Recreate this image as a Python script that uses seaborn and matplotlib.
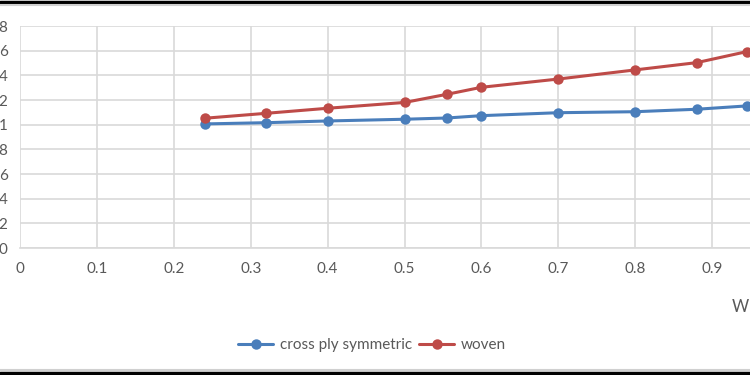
import matplotlib
matplotlib.use("Agg")
import matplotlib.pyplot as plt
from matplotlib.lines import Line2D
import numpy as np
import pandas as pd
import seaborn as sns

# values
x_vals = [0.24, 0.32, 0.40, 0.50, 0.555, 0.60, 0.70, 0.80, 0.88, 0.945]
cross_ply = [1.006, 1.016, 1.03, 1.044, 1.054, 1.073, 1.097, 1.105, 1.125, 1.152]
woven = [1.052, 1.092, 1.133, 1.18, 1.246, 1.303, 1.37, 1.444, 1.503, 1.592]
series_names = ["cross ply symmetric", "woven"]
colors = ["#4A7EBB", "#BE4B48"]
x_ticks = [0, 0.1, 0.2, 0.3, 0.4, 0.5, 0.6, 0.7, 0.8, 0.9]
x_labels = ["0", "0.1", "0.2", "0.3", "0.4", "0.5", "0.6", "0.7", "0.8", "0.9"]
y_ticks = [0, 0.2, 0.4, 0.6, 0.8, 1.0, 1.2, 1.4, 1.6, 1.8]
# left side of the original is cut off, only the last char is visible
y_labels = ["0", "2", "4", "6", "8", "1", "2", "4", "6", "8"]

df = pd.DataFrame({
    "x": x_vals * 2,
    "y": cross_ply + woven,
    "series": [series_names[0]] * len(x_vals) + [series_names[1]] * len(x_vals),
})

sns.set_style("white")
plt.rcParams["font.family"] = ["Lato", "DejaVu Sans"]

fig = plt.figure(figsize=(7.5, 3.75), dpi=100)
ax = fig.add_axes([20 / 750, 1 - 248 / 375, 769 / 750, 222 / 375])

sns.lineplot(data=df, x="x", y="y", hue="series", palette=colors,
             marker="o", markersize=7.5, markeredgewidth=0, linewidth=2.2,
             ax=ax, legend=False, zorder=3)

ax.set_xlim(0, 1.0)
ax.set_ylim(0, 1.8)
ax.set_xticks(x_ticks)
ax.set_xticklabels(x_labels)
ax.set_yticks(y_ticks)
ax.set_yticklabels(y_labels)
ax.grid(True, color="#D9D9D9", linewidth=1.2)
ax.set_axisbelow(True)
for side in ["top", "right", "left"]:
    ax.spines[side].set_visible(False)
ax.spines["bottom"].set_color("#D9D9D9")
ax.spines["bottom"].set_linewidth(1.2)
ax.tick_params(axis="both", length=0, labelsize=11, labelcolor="#595959")
ax.tick_params(axis="y", pad=9)
ax.tick_params(axis="x", pad=10)
ax.set_xlabel("")
ax.set_ylabel("")

fig.text(732 / 750, 1 - 307 / 375, "W", ha="left", va="center",
         fontsize=12, color="#595959")

handles = [Line2D([], [], color=c, marker="o", markersize=7.5,
                  markeredgewidth=0, linewidth=2.2) for c in colors]
fig.legend(handles, series_names, loc="center",
           bbox_to_anchor=(372 / 750, 1 - 345 / 375), ncol=2, frameon=False,
           fontsize=11, labelcolor="#595959", handlelength=2.3,
           handletextpad=0.4, columnspacing=0.5)

# frame lines of the screenshot
fig.add_artist(Line2D([0, 1], [1 - 1.5 / 375] * 2, color="black", linewidth=2.5))
fig.add_artist(Line2D([0, 1], [1 - 5 / 375] * 2, color="#D0D0D0", linewidth=1.5))
fig.add_artist(Line2D([0, 1], [1 - 369.5 / 375] * 2, color="#D0D0D0", linewidth=1.5))
fig.add_artist(Line2D([0, 1], [1 - 373 / 375] * 2, color="black", linewidth=2.5))

fig.savefig("out.png", dpi=100)
plt.close()
